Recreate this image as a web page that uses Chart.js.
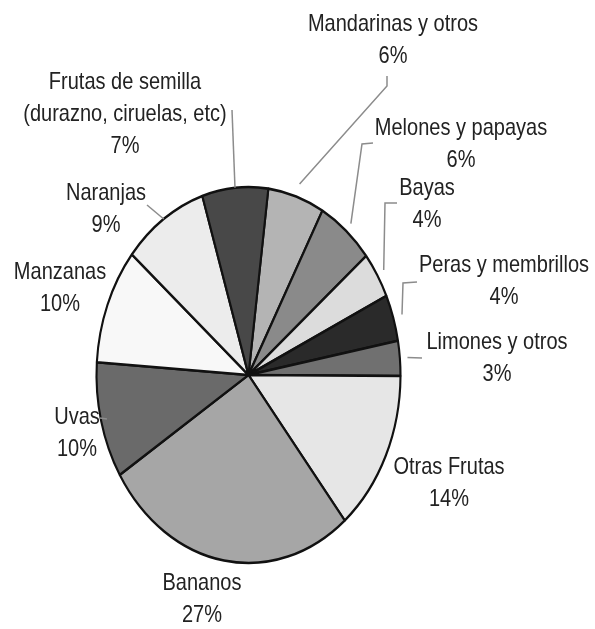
<!DOCTYPE html>
<html>
<head>
<meta charset="utf-8">
<script src="https://cdn.jsdelivr.net/npm/chart.js@4/dist/chart.umd.min.js"></script>
<style>
    html, body { margin: 0; padding: 0; background: #fff; }
    #wrap { width: 595px; height: 629px; }
</style>
</head>
<body>
<div id="wrap"><canvas id="pie" width="595" height="629"></canvas></div>
<script>
/* ============================================================
   DATA
============================================================ */
const categories = [
    ["Mandarinas y otros"],
    ["Melones y papayas"],
    ["Bayas"],
    ["Peras y membrillos"],
    ["Limones y otros"],
    ["Otras Frutas"],
    ["Bananos"],
    ["Uvas"],
    ["Manzanas"],
    ["Naranjas"],
    ["Frutas de semilla", "(durazno, ciruelas, etc)"]
];
const shares = [6, 6, 4, 4, 3, 14, 27, 10, 10, 9, 7];
const sliceColors = [
    "#b4b4b4", "#8a8a8a", "#dcdcdc", "#2a2a2a", "#707070", "#e6e6e6",
    "#a6a6a6", "#6a6a6a", "#f8f8f8", "#ececec", "#484848"
];

/* ============================================================
   LAYOUT (label anchors + leader lines)
============================================================ */
const ELLIPSE = { cx: 248.5, cy: 375, rx: 152, ry: 188 };
const labelPos = [
    [393, 24], [461, 128], [427, 188], [504, 265], [497, 342], [449, 467],
    [202, 583], [77, 417], [60, 272], [106, 193], [125, 82]
];
// gap = factor from rim at slice mid-angle, pts = elbow points toward label
const leaders = [
    { gap: 1.07, pts: [[387, 86], [387, 76]] },
    { gap: 1.05, pts: [[362, 144], [373, 143]] },
    { gap: 1.05, pts: [[385, 203], [397, 203]] },
    { gap: 1.06, pts: [[403, 283], [417, 282]] },
    { gap: 1.05, pts: [[422, 358]] },
    null,
    null,
    { gap: 0.96, pts: [[100, 418]] },
    null,
    { gap: 1.0, pts: [[147, 205]] },
    { gap: 1.0, pts: [[232, 110]] }
];
const FONT = "20px 'Liberation Sans', Arial, sans-serif";
const STRETCH_Y = 1.18;
const LINE_H = 32;

/* ============================================================
   PLUGINS
============================================================ */
function rimPoint(arc, gap) {
    const a = (arc.startAngle + arc.endAngle) / 2;
    return [ELLIPSE.cx + ELLIPSE.rx * Math.cos(a) * gap,
            ELLIPSE.cy + ELLIPSE.ry * Math.sin(a) * gap];
}

const ellipsePlugin = {
    id: "ellipse",
    beforeDatasetsDraw(chart) {
        const arc = chart.getDatasetMeta(0).data[0];
        const ctx = chart.ctx;
        const R = arc.outerRadius;
        ctx.save();
        ctx.translate(ELLIPSE.cx, ELLIPSE.cy);
        ctx.scale(ELLIPSE.rx / R, ELLIPSE.ry / R);
        ctx.translate(-arc.x, -arc.y);
    },
    afterDatasetsDraw(chart) {
        chart.ctx.restore();
    }
};

const labelPlugin = {
    id: "sliceLabels",
    afterDraw(chart) {
        const ctx = chart.ctx;
        const arcs = chart.getDatasetMeta(0).data;
        const labels = chart.data.labels;
        const values = chart.data.datasets[0].data;

        // leader lines
        ctx.save();
        ctx.strokeStyle = "#8c8c8c";
        ctx.lineWidth = 1.5;
        arcs.forEach((arc, i) => {
            const ld = leaders[i];
            if (!ld) return;
            const start = rimPoint(arc, ld.gap);
            ctx.beginPath();
            ctx.moveTo(start[0], start[1]);
            ld.pts.forEach(p => ctx.lineTo(p[0], p[1]));
            ctx.stroke();
        });
        ctx.restore();

        // texts
        ctx.save();
        ctx.font = FONT;
        ctx.fillStyle = "#222";
        ctx.textAlign = "center";
        ctx.textBaseline = "middle";
        labels.forEach((lines, i) => {
            const all = lines.concat([values[i] + "%"]);
            const [x, y] = labelPos[i];
            all.forEach((t, k) => {
                ctx.save();
                ctx.translate(x, y + k * LINE_H);
                ctx.scale(1, STRETCH_Y);
                ctx.fillText(t, 0, 0);
                ctx.restore();
            });
        });
        ctx.restore();
    }
};

/* ============================================================
   CHART
============================================================ */
new Chart(document.getElementById("pie").getContext("2d"), {
    type: "pie",
    data: {
        labels: categories,
        datasets: [{
            data: shares,
            backgroundColor: sliceColors,
            borderColor: "#111",
            borderWidth: 2.6
        }]
    },
    options: {
        responsive: false,
        animation: false,
        rotation: 7.5,
        layout: { padding: { left: 60, right: 159, top: 187, bottom: 66 } },
        plugins: {
            legend: { display: false },
            tooltip: { enabled: false }
        }
    },
    plugins: [ellipsePlugin, labelPlugin]
});
</script>
</body>
</html>
